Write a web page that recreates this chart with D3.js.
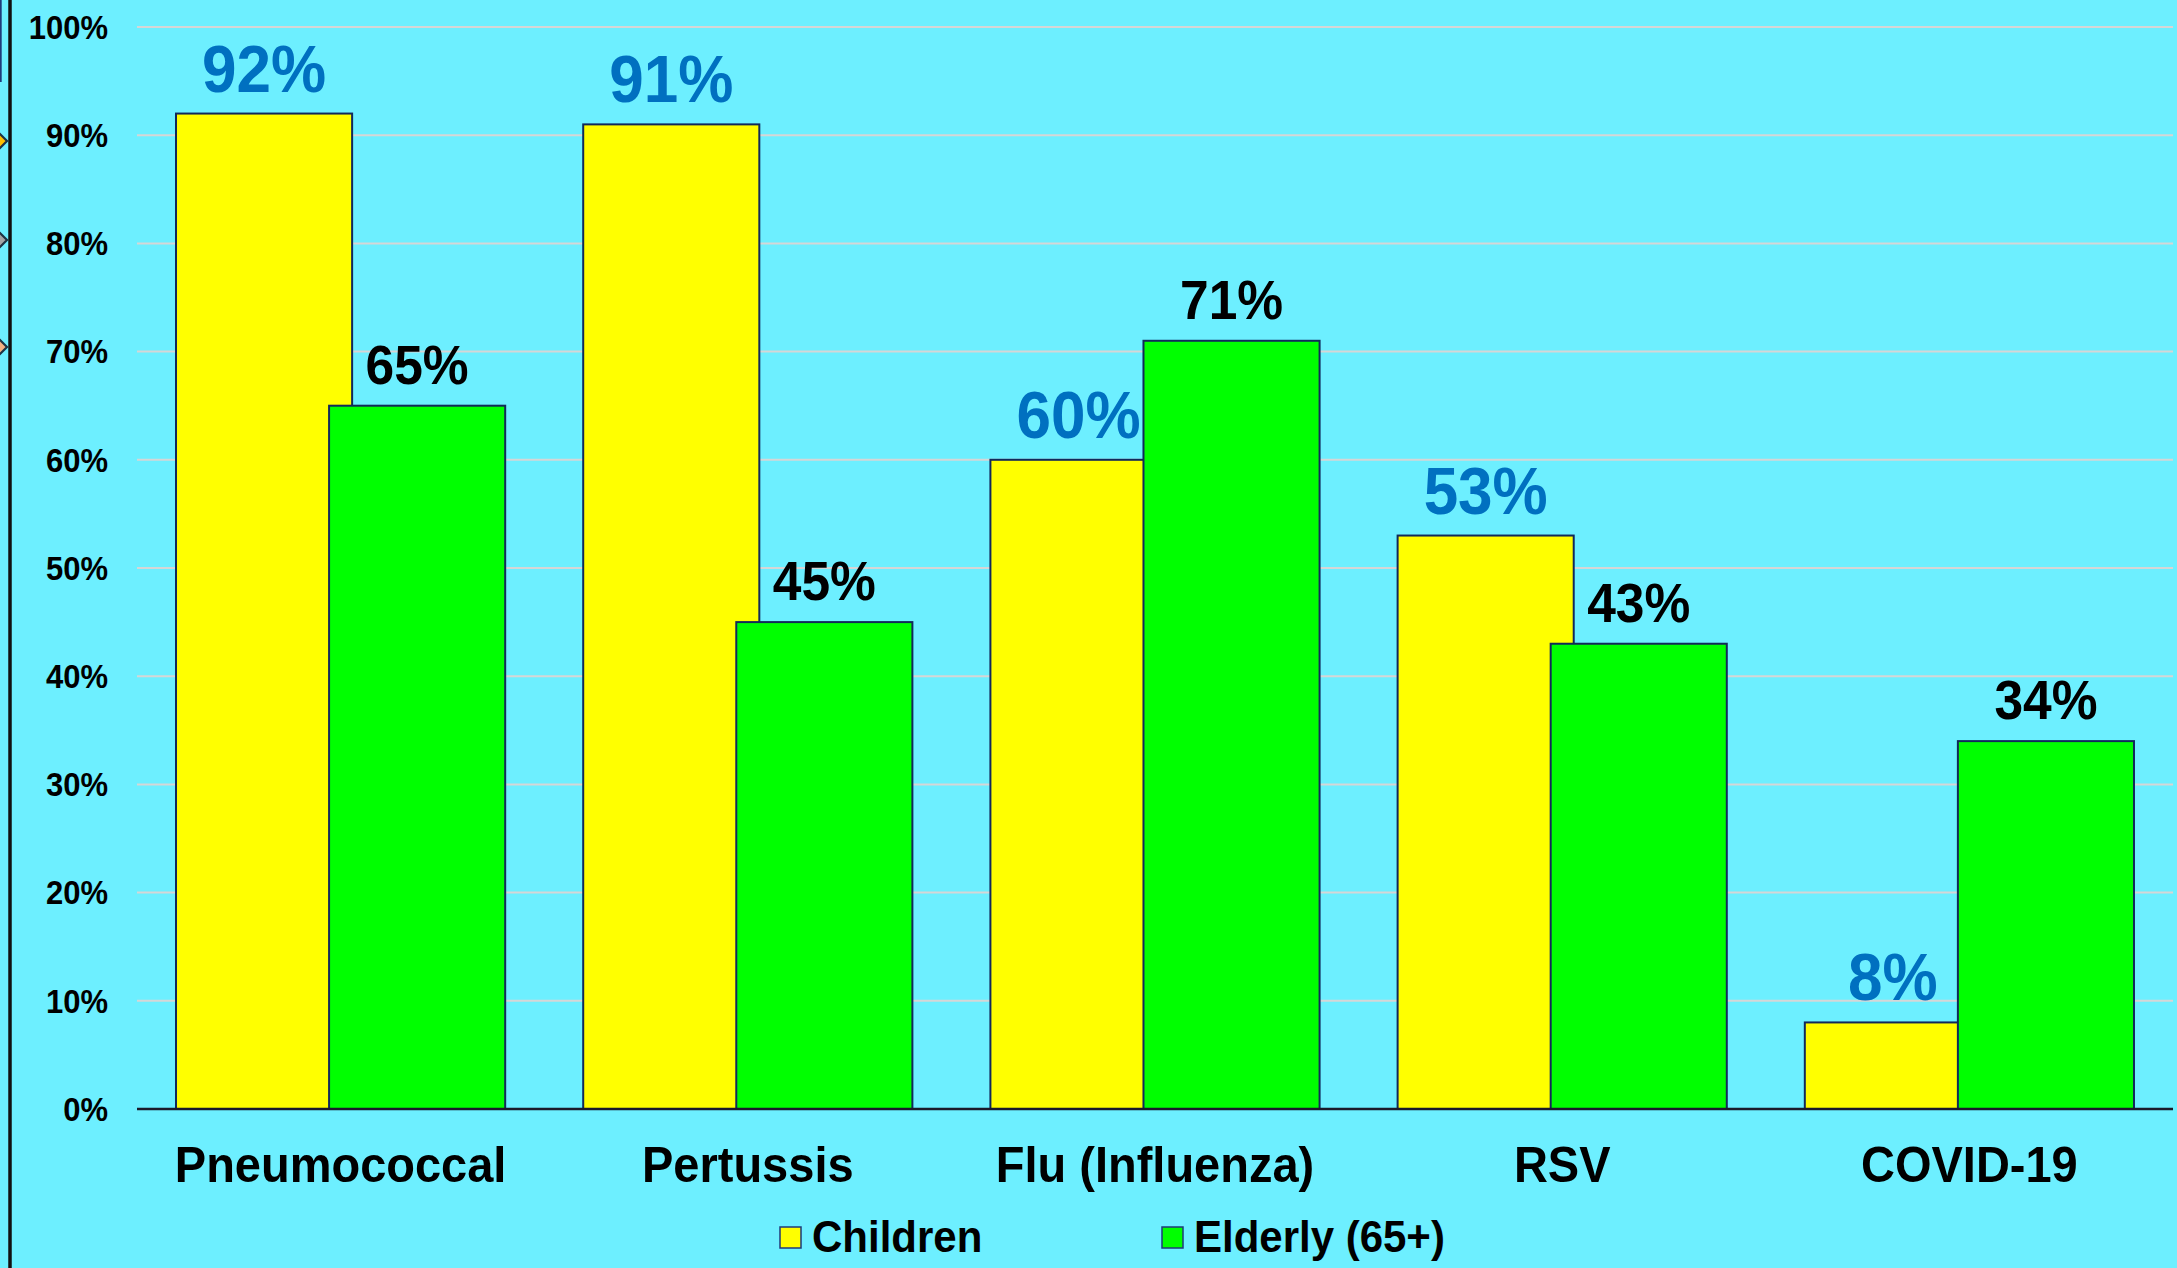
<!DOCTYPE html>
<html>
<head>
<meta charset="utf-8">
<script src="https://cdn.jsdelivr.net/npm/d3@7"></script>
<style>
  html, body { margin: 0; padding: 0; background: #6DEFFF; }
  svg { display: block; }
  text { font-family: "Liberation Sans", Arial, sans-serif; font-weight: bold; }
</style>
</head>
<body>
<svg id="chart" width="2177" height="1268"></svg>
<script>
// Vaccination coverage by vaccine and age group
const categories = ["Pneumococcal", "Pertussis", "Flu (Influenza)", "RSV", "COVID-19"];
const seriesNames = ["Children", "Elderly (65+)"];
const children = [0.92, 0.91, 0.60, 0.53, 0.08];
const elderly = [0.65, 0.45, 0.71, 0.43, 0.34];
const yTicks = [0, 0.1, 0.2, 0.3, 0.4, 0.5, 0.6, 0.7, 0.8, 0.9, 1.0];

const W = 2177, H = 1268;
const plot = { left: 137, right: 2173, top: 27, bottom: 1109 };
const colors = { Children: "#FFFF00", "Elderly (65+)": "#00FF00" };
const barStroke = "#12295A";
const labelColors = { Children: "#0070C0", "Elderly (65+)": "#000000" };
const stretch = 1.07;   // text is drawn slightly taller than wide

const svg = d3.select("#chart");
svg.append("rect").attr("width", W).attr("height", H).attr("fill", "#6DEFFF");

// Left frame edge with the border markers of the adjoining panel
svg.append("line").attr("x1", 10).attr("x2", 10).attr("y1", 0).attr("y2", H)
  .attr("stroke", "#111111").attr("stroke-width", 3.5);
svg.append("line").attr("x1", 0.8).attr("x2", 0.8).attr("y1", 0).attr("y2", 82)
  .attr("stroke", "#1F3A7A").attr("stroke-width", 1.8);
const markers = [{ y: 141, c: "#FFC000" }, { y: 240, c: "#A5A5A5" }, { y: 347, c: "#F4B183" }];
svg.selectAll("path.marker").data(markers).join("path")
  .attr("class", "marker")
  .attr("d", d => `M-13,${d.y} L-3,${d.y - 10} L7,${d.y} L-3,${d.y + 10} Z`)
  .attr("fill", d => d.c).attr("stroke", "#1E3344").attr("stroke-width", 2.2);

const x0 = d3.scaleBand().domain(categories).range([plot.left, plot.right])
  .paddingInner(0.1916).paddingOuter(0.0958);
const barFrac = 0.535;  // each bar's share of the group width (bars overlap)
const bw = x0.bandwidth() * barFrac;
const y = d3.scaleLinear().domain([0, 1]).range([plot.bottom, plot.top]);

// Gridlines
svg.append("g").selectAll("line").data(yTicks.filter(t => t > 0)).join("line")
  .attr("x1", plot.left).attr("x2", plot.right)
  .attr("y1", d => y(d)).attr("y2", d => y(d))
  .attr("stroke", "#D6D6D6").attr("stroke-width", 2);

// Y axis (labels only)
const yAxis = d3.axisLeft(y).tickValues(yTicks).tickFormat(d3.format(".0%")).tickSize(0).tickPadding(0);
const yg = svg.append("g").attr("transform", `translate(108,0)`).call(yAxis);
yg.select(".domain").remove();
yg.selectAll("text")
  .attr("x", 0).attr("dy", null).attr("y", 0)
  .attr("fill", "#000").attr("font-size", 31)
  .attr("font-family", "Liberation Sans, Arial, sans-serif").attr("font-weight", "bold")
  .attr("dominant-baseline", "central")
  .attr("transform", `scale(1,${stretch})`);

const rows = categories.map((c, i) => ({ cat: c, Children: children[i], "Elderly (65+)": elderly[i] }));
const barX = (d, s) => s === "Children" ? x0(d.cat) : x0(d.cat) + x0.bandwidth() - bw;

// Bars: yellow first, green drawn over it
seriesNames.forEach(s => {
  svg.append("g").selectAll("rect").data(rows).join("rect")
    .attr("x", d => barX(d, s))
    .attr("y", d => y(d[s]))
    .attr("width", bw)
    .attr("height", d => y(0) - y(d[s]))
    .attr("fill", colors[s])
    .attr("stroke", barStroke).attr("stroke-width", 2);
});

// Baseline
svg.append("line").attr("x1", plot.left).attr("x2", plot.right)
  .attr("y1", y(0)).attr("y2", y(0)).attr("stroke", "#1A1A2A").attr("stroke-width", 2.5);

// Value labels
const fmt = d3.format(".0%");
const labelSize = { Children: 62, "Elderly (65+)": 51.5 };
seriesNames.forEach(s => {
  svg.append("g").selectAll("text").data(rows).join("text")
    .attr("transform", d => `translate(${barX(d, s) + bw / 2},${y(d[s]) - 22}) scale(1,${stretch})`)
    .attr("text-anchor", "middle")
    .attr("font-size", labelSize[s])
    .attr("fill", labelColors[s])
    .text(d => fmt(d[s]));
});

// Category labels
svg.append("g").selectAll("text").data(categories).join("text")
  .attr("transform", d => `translate(${x0(d) + x0.bandwidth() / 2},1182) scale(1,1.05)`)
  .attr("text-anchor", "middle")
  .attr("font-size", 47)
  .attr("fill", "#000")
  .text(d => d);

// Legend
const legendX = [780, 1162];
const lg = svg.append("g").selectAll("g").data(seriesNames).join("g")
  .attr("transform", (d, i) => `translate(${legendX[i]},0)`);
lg.append("rect").attr("x", 0).attr("y", 1227).attr("width", 21).attr("height", 21)
  .attr("fill", d => colors[d]).attr("stroke", "#1F3A7A").attr("stroke-width", 1.5);
lg.append("text")
  .attr("transform", "translate(32,1252) scale(1,1.05)")
  .attr("font-size", 42)
  .attr("fill", "#000")
  .text(d => d);
</script>
</body>
</html>
